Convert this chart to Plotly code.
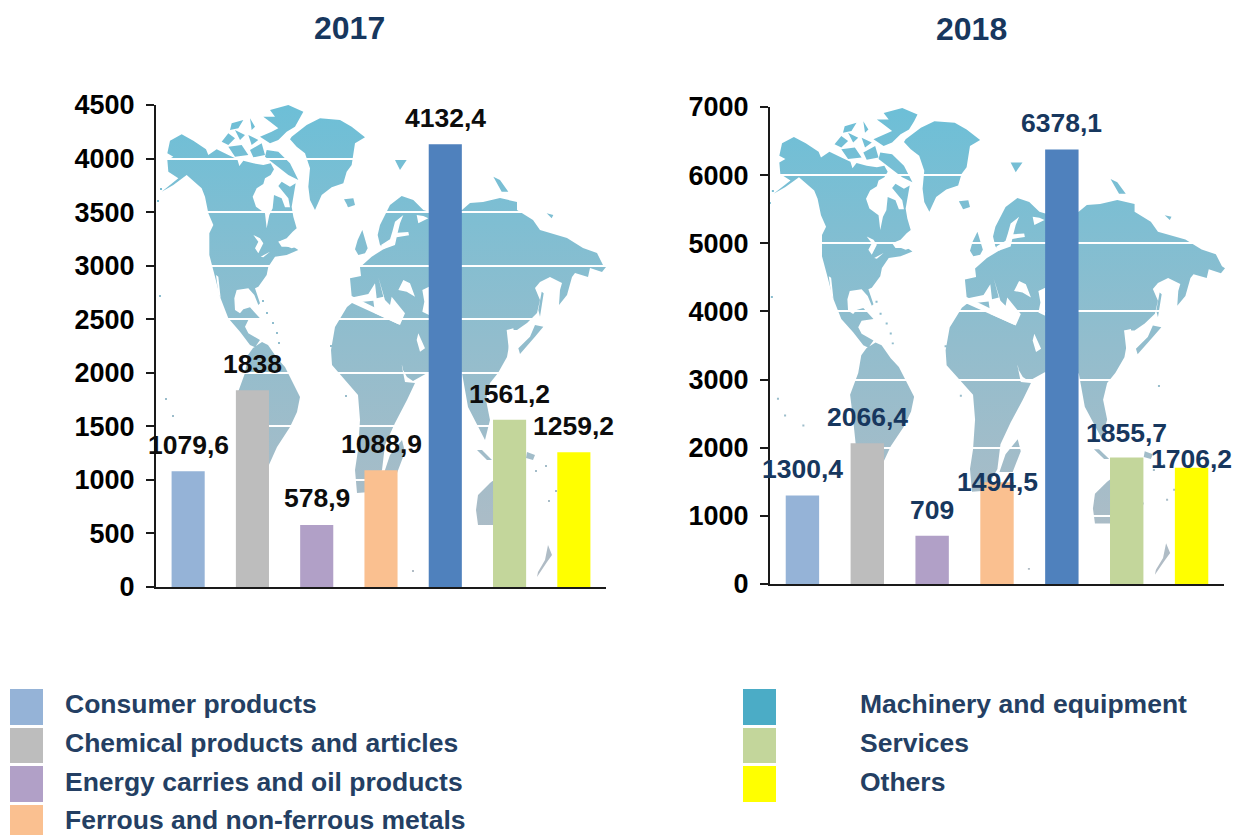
import plotly.graph_objects as go

# ---------- data ----------
categories = ["Consumer products", "Chemical products and articles",
              "Energy carries and oil products", "Ferrous and non-ferrous metals",
              "Machinery and equipment", "Services", "Others"]
values_2017 = [1079.6, 1838, 578.9, 1088.9, 4132.4, 1561.2, 1259.2]
values_2018 = [1300.4, 2066.4, 709, 1494.5, 6378.1, 1855.7, 1706.2]
bar_colors = ["#95B3D7", "#BDBDBD", "#B1A0C7", "#FAC090", "#4F81BD", "#C3D69B", "#FFFF00"]
legend_colors = ["#95B3D7", "#BDBDBD", "#B1A0C7", "#FAC090", "#4BACC6", "#C3D69B", "#FFFF00"]
ticks_2017 = list(range(0, 4501, 500))
ticks_2018 = list(range(0, 7001, 1000))

W, H = 1235, 835
NAVY = "#17375E"
LEG = "#243F63"
FONT = "Liberation Sans"


# ---------- decorative world-map silhouette (page pixels of the left panel) ----------
def z(ox, oy, pts):
    return [(ox + a / 3, oy + b / 3) for a, b in pts]


ZN = (150, 100)   # North America / Greenland tracing
ZE = (370, 160)   # Asia tracing
ZA = (335, 190)   # Europe tracing
ZB = (220, 100)   # Arctic tracing
ZC = (205, 270)   # Central America tracing

land = [
    # North and Central America
    z(*ZN, [(60, 122), (95, 103), (130, 122), (168, 148), (175, 165), (200, 148), (235, 165), (262, 178),
            (268, 198), (280, 182), (310, 190), (340, 195), (362, 190), (372, 208), (362, 225), (345, 235),
            (340, 252), (320, 265), (308, 290), (318, 320), (345, 340), (350, 385), (358, 345), (368, 325),
            (372, 285), (395, 295), (405, 322), (420, 322), (415, 295), (385, 258), (395, 245), (420, 260),
            (437, 250), (425, 320), (430, 350), (440, 385), (428, 395), (410, 415), (385, 425), (395, 440),
            (430, 440), (445, 450), (410, 465), (375, 470), (355, 500), (350, 525), (325, 560)])
    + z(*ZC, [(150, 55), (165, 100), (160, 105), (148, 75), (130, 55), (95, 60), (88, 85), (90, 120), (105, 130),
              (115, 118), (135, 112), (165, 145), (130, 150), (120, 170), (130, 190), (165, 210), (150, 232),
              (135, 225), (105, 185), (70, 145), (45, 80), (30, 20)])
    + z(*ZN, [(178, 465), (178, 400), (190, 375), (175, 340), (165, 290), (155, 265), (110, 225), (70, 255),
              (35, 275), (85, 235), (55, 215), (52, 180), (70, 170), (52, 160)]),
    # Arctic islands
    z(*ZB, [(140, 150), (175, 155), (210, 190), (235, 240), (205, 225), (160, 190), (135, 170)]),
    z(*ZB, [(150, 30), (205, 15), (250, 35), (240, 55), (225, 80), (200, 95), (175, 120), (150, 130), (120, 110),
            (155, 95), (175, 85), (150, 65), (130, 50), (165, 50)]),
    z(*ZB, [(5, 125), (25, 100), (45, 115), (25, 135)]),
    z(*ZB, [(35, 70), (70, 60), (55, 85), (30, 90)]),
    z(*ZB, [(90, 55), (105, 80), (95, 90)]),
    z(*ZB, [(45, 90), (75, 105), (60, 120)]),
    z(*ZB, [(85, 105), (115, 120), (95, 135)]),
    z(*ZB, [(25, 140), (65, 135), (85, 165), (45, 170)]),
    z(*ZB, [(90, 150), (125, 130), (135, 165), (100, 172)]),
    # Greenland, Iceland, Britain
    z(*ZN, [(425, 110), (470, 75), (510, 55), (570, 60), (605, 80), (645, 112), (615, 130), (610, 170), (605, 195),
            (590, 215), (580, 250), (545, 262), (515, 285), (495, 330), (480, 300), (475, 260), (480, 205),
            (465, 160), (440, 140), (420, 118)]),
    z(*ZN, [(582, 298), (610, 295), (615, 315), (595, 322)]),
    z(*ZA, [(60, 178), (68, 150), (82, 120), (98, 175), (90, 190), (70, 195)]),
    z(*ZA, [(30, 28), (55, 28), (58, 42), (38, 50)]),
    # Eurasia
    z(*ZA, [(50, 318), (45, 265), (78, 258), (75, 232), (110, 200), (135, 185), (150, 175), (135, 165), (128, 135),
            (135, 105), (165, 45), (200, 18), (235, 30), (265, 60), (282, 65)])
    + [(462, 210), (470, 203), (483, 202), (500, 198),
       (517, 202), (517, 210), (533, 220), (540, 230), (567, 238), (583, 248), (597, 253), (603, 265), (606, 267),
       (602, 272), (590, 268), (588, 277), (575, 273), (572, 277), (567, 295), (559, 305), (560, 290), (562, 283),
       (550, 277), (540, 282), (535, 288), (540, 300), (537, 313), (527, 323), (517, 330), (507, 330), (510, 340),
       (507, 357), (498, 373), (490, 383), (486, 400), (490, 420), (485, 440), (478, 427), (468, 407), (462, 373),
       (445, 395), (429, 372), (413, 381), (407, 377), (403, 370), (398, 345), (396, 332), (400, 320)],
    # Africa
    [(352, 303), (400, 325), (402, 367), (405, 382), (415, 383), (407, 400),
     (395, 423), (385, 445), (382, 470), (370, 492), (357, 493), (355, 470), (358, 450), (360, 420), (358, 395),
     (340, 375), (332, 365), (331, 350), (335, 327), (347, 307)],
    [(402, 440), (405, 452), (397, 473), (384, 473), (390, 455)],
    # South America
    [(253, 348), (262, 342), (268, 345), (277, 358), (285, 367), (300, 397), (297, 412), (290, 427), (277, 447),
     (268, 467), (255, 490), (245, 500), (240, 495), (243, 450), (240, 420), (237, 395), (245, 373), (248, 355)],
    # Australia, New Zealand, islands of the east
    [(478, 495), (490, 483), (500, 475), (515, 475), (526, 505), (520, 520), (495, 525), (478, 525), (476, 510)],
    [(548, 545), (552, 555), (547, 562), (537, 577), (538, 572), (545, 560)],
    [(477, 450), (482, 450), (492, 460), (487, 460)],
    [(527, 452), (535, 455), (533, 460), (526, 458)],
    z(*ZE, [(495, 495), (520, 500), (495, 530), (450, 582), (445, 565), (480, 530)]),
    z(*ZE, [(515, 395), (521, 400), (510, 470), (505, 450)]),
    z(*ZE, [(370, 50), (390, 60), (415, 95), (395, 95)]),
    z(*ZE, [(75, 0), (110, 0), (90, 30)]),
    z(*ZE, [(530, 160), (550, 165), (545, 175)]),
]
# tiny island specks around the Caribbean, the Pacific and Indonesia
for sx, sy in [(262, 300), (266, 312), (272, 322), (276, 332), (278, 342), (160, 188), (157, 200), (159, 295),
               (165, 398), (172, 415), (190, 425), (330, 345), (345, 395), (508, 425), (515, 437), (535, 470),
               (548, 500), (555, 490), (540, 385), (412, 570), (530, 455), (545, 465)]:
    land.append([(sx, sy), (sx + 2, sy), (sx + 2, sy + 2), (sx, sy + 2)])

water = [
    z(*ZN, [(310, 405), (330, 415), (340, 430), (325, 460), (315, 445), (325, 425)]),
    z(*ZN, [(385, 425), (420, 415), (440, 440), (425, 445), (400, 435)]),
    z(*ZN, [(332, 470), (360, 455), (340, 472)]),
    z(*ZN, [(198, 525), (205, 530), (212, 595), (205, 580)]),
    z(*ZA, [(205, 75), (195, 100), (188, 128), (220, 126), (222, 136), (185, 142), (180, 165), (145, 178), (138, 165),
            (165, 148), (172, 125), (180, 95)]),
    z(*ZA, [(245, 75), (250, 100), (280, 85), (265, 78)]),
    z(*ZA, [(40, 325), (100, 312), (120, 280), (125, 325), (145, 320), (130, 262), (150, 330), (165, 345), (170, 320),
            (190, 345), (210, 370), (195, 405), (150, 385), (120, 370), (115, 332), (40, 340)]),
    z(*ZA, [(190, 300), (205, 270), (225, 280), (240, 320), (215, 305)]),
    z(*ZA, [(262, 300), (282, 290), (282, 375), (262, 365), (268, 335)]),
    z(*ZE, [(145, 520), (165, 565), (150, 575), (140, 540)]),
    z(*ZE, [(410, 510), (430, 505), (445, 590), (420, 600)]),
]


def path(polys, fx, fy):
    xs, ys = [], []
    for p in polys:
        xs += [fx(a) for a, _ in p] + [fx(p[0][0]), None]
        ys += [fy(b) for _, b in p] + [fy(p[0][1]), None]
    return xs[:-1], ys[:-1]


left_x = lambda v: v
left_y = lambda v: v
right_x = lambda v: 780 + (v - 168) * 1.016
right_y = lambda v: 108 + (v - 105) * 0.989

fig = go.Figure()
for fx, fy in ((left_x, left_y), (right_x, right_y)):
    mx, my = path(land, fx, fy)
    fig.add_trace(go.Scatter(x=mx, y=my, mode="lines", fill="toself", line=dict(width=0),
                             fillgradient=dict(type="vertical",
                                               colorscale=[[0, "#B2BCC5"], [0.5, "#92BDCD"], [1, "#6DBFD7"]]),
                             hoverinfo="skip", showlegend=False, xaxis="x", yaxis="y"))
    wx, wy = path(water, fx, fy)
    fig.add_trace(go.Scatter(x=wx, y=wy, mode="lines", fill="toself", line=dict(width=0),
                             fillcolor="white", hoverinfo="skip", showlegend=False, xaxis="x", yaxis="y"))

# ---------- the two bar charts ----------
panels = [
    dict(v=values_2017, ticks=ticks_2017, top=4500, ax="2", left=156, right=606, ptop=105, pbot=587,
         title="2017", tx=349, color="#0D0D0D", ytitle=28, shift=[26, 26, 27, 26, 26, 26, 26]),
    dict(v=values_2018, ticks=ticks_2018, top=7000, ax="3", left=770, right=1224, ptop=107, pbot=584,
         title="2018", tx=971, color=NAVY, ytitle=29, shift=[26, 26, 26, 0, 26, 25, 9]),
]
layout_axes = {}
annotations = []
for p in panels:
    xa, ya = "x" + p["ax"], "y" + p["ax"]
    fig.add_trace(go.Bar(x=categories, y=p["v"], marker=dict(color=bar_colors, line=dict(width=0)), width=0.515,
                         showlegend=False, xaxis=xa, yaxis=ya))
    layout_axes["xaxis" + p["ax"]] = dict(domain=[p["left"] / W, p["right"] / W], anchor=ya, showgrid=False,
                                          showticklabels=False, ticks="", zeroline=False, showline=True,
                                          linecolor="#1A1A1A", linewidth=2, fixedrange=True, range=[-0.5, 6.5])
    layout_axes["yaxis" + p["ax"]] = dict(domain=[1 - p["pbot"] / H, 1 - p["ptop"] / H], anchor=xa,
                                          range=[0, p["top"]], tickvals=p["ticks"], tickformat="d",
                                          showgrid=True, gridcolor="white", gridwidth=2, zeroline=False,
                                          showline=True, linecolor="#1A1A1A", linewidth=2, ticks="outside",
                                          ticklen=8, tickwidth=2, tickcolor="#1A1A1A", ticklabelstandoff=6,
                                          tickfont=dict(family=FONT, size=27, color="#000000", weight="bold"))
    for c, val, sh in zip(categories, p["v"], p["shift"]):
        annotations.append(dict(x=c, y=val, xref=xa, yref=ya, text=str(val).replace(".", ","), showarrow=False,
                                yshift=sh, yanchor="middle", xanchor="center",
                                font=dict(family=FONT, size=26.5, color=p["color"], weight="bold")))
    annotations.append(dict(x=p["tx"], y=p["ytitle"], xref="x", yref="y", text=p["title"], showarrow=False,
                            font=dict(family=FONT, size=32, color=NAVY, weight="bold")))

# ---------- hand-laid legend ----------
rows_y = [(689, 725), (728, 763), (766, 802), (805, 835)]
text_y = [704, 743, 782, 820]
shapes = []
for i, (name, col) in enumerate(zip(categories, legend_colors)):
    r = i if i < 4 else i - 4
    sx, tx = (10, 63) if i < 4 else (743, 858)
    shapes.append(dict(type="rect", xref="x", yref="y", x0=sx, x1=sx + 33, y0=rows_y[r][0], y1=rows_y[r][1],
                       fillcolor=col, line=dict(width=0)))
    annotations.append(dict(x=tx, y=text_y[r], xref="x", yref="y", text=name, showarrow=False, xanchor="left",
                            yanchor="middle", font=dict(family=FONT, size=26.5, color=LEG, weight="bold")))

fig.update_layout(
    width=W, height=H, margin=dict(l=0, r=0, t=0, b=0, autoexpand=False), paper_bgcolor="white",
    plot_bgcolor="rgba(0,0,0,0)",
    showlegend=False, bargap=0.485, shapes=shapes, annotations=annotations,
    xaxis=dict(domain=[0, 1], range=[0, W], visible=False, fixedrange=True),
    yaxis=dict(domain=[0, 1], range=[H, 0], visible=False, fixedrange=True),
    **layout_axes,
)
fig.write_html("out.html", config=dict(displayModeBar=False), post_script="document.body.style.margin='0';")
